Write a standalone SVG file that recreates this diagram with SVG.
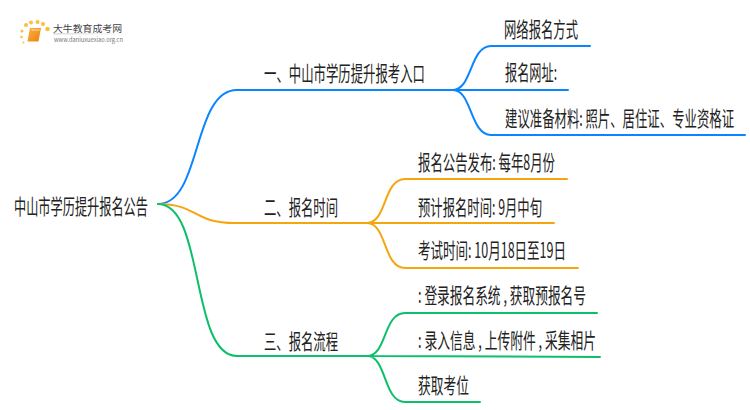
<svg xmlns="http://www.w3.org/2000/svg" width="750" height="410" viewBox="0 0 750 410">
<defs>
<style>
text{font-family:"Noto Sans CJK SC","Liberation Sans",sans-serif;font-size:21px;fill:#222}
.c{fill:none;stroke-width:2;stroke-linecap:round}
.b{stroke:#0a84ff}.o{stroke:#f5a60f}.g{stroke:#0dbf6a}
.d{fill:#fbbf3c}
</style>
<linearGradient id="bk" x1="0" y1="0" x2="1" y2="1"><stop offset="0" stop-color="#fbb33a"/><stop offset="1" stop-color="#ea7f12"/></linearGradient>
<linearGradient id="ln" x1="0" y1="0" x2="1" y2="0"><stop offset="0" stop-color="#bbb"/><stop offset="1" stop-color="#bbb" stop-opacity="0"/></linearGradient>
</defs>
<rect width="750" height="410" fill="#fff"/>
<g id="logo">
<circle class="d" cx="22" cy="31" r="1.500"/><circle class="d" cx="26" cy="25" r="2"/><circle class="d" cx="31" cy="22.500" r="2"/><circle class="d" cx="37.500" cy="22" r="2"/><circle class="d" cx="43" cy="24" r="2"/><circle class="d" cx="47.500" cy="29" r="2.300"/><circle class="d" cx="21.500" cy="37" r="1.200"/><circle class="d" cx="23.500" cy="42.500" r="1"/>
<path d="M30 28H41L38.500 41.500H27.500Z" fill="url(#bk)"/>
<path d="M31.500 30H39.500" stroke="#fde1a8" stroke-width="1"/>
<text x="53" y="31.500" textLength="69" lengthAdjust="spacingAndGlyphs" style="font-size:9.500px;fill:#444">大牛教育成考网</text>
<rect x="53" y="33.500" width="80" height="0.800" fill="url(#ln)"/>
<text x="54" y="41.500" textLength="69" lengthAdjust="spacingAndGlyphs" style="font-size:6px;fill:#777">www.daniuxuexiao.org.cn</text>
</g>
<g id="connectors">
<path class="c b" d="M158 204C202 204 192 90 237 90H453"/>
<path class="c b" d="M453 90C472 90 470 46 491 46H590M453 90H568M453 90C472 90 470 135 491 135H745"/>
<path class="c o" d="M158 204C198 204 192 223 235 223H367"/>
<path class="c o" d="M367 223C387 223 383 179 405 179H567M367 223H554M367 223C387 223 383 268 405 268H578"/>
<path class="c g" d="M158 204C205 204 190 356 237 356H367"/>
<path class="c g" d="M367 356C387 356 383 313 405 313H597M367 356L600 357M367 356C387 356 383 402 405 402H480"/>
</g>
<g id="root"><text transform="translate(14 214) scale(.6 1)" textLength="223.300" lengthAdjust="spacingAndGlyphs">中山市学历提升报名公告</text></g>
<g id="n1"><text transform="translate(264 81) scale(.6 1)" textLength="268.300" lengthAdjust="spacingAndGlyphs">一、中山市学历提升报考入口</text></g>
<g id="n2"><text transform="translate(264 215) scale(.6 1)" textLength="123.300" lengthAdjust="spacingAndGlyphs">二、报名时间</text></g>
<g id="n3"><text transform="translate(264 349) scale(.6 1)" textLength="123.300" lengthAdjust="spacingAndGlyphs">三、报名流程</text></g>
<g id="n1a"><text transform="translate(504 37) scale(.6 1)" textLength="123.300" lengthAdjust="spacingAndGlyphs">网络报名方式</text></g>
<g id="n1b"><text transform="translate(505 80) scale(.6 1)" textLength="86.700" lengthAdjust="spacingAndGlyphs">报名网址:</text></g>
<g id="n1c"><text transform="translate(505 126) scale(.6 1)" textLength="381.700" lengthAdjust="spacingAndGlyphs">建议准备材料: 照片、居住证、专业资格证</text></g>
<g id="n2a"><text transform="translate(418 170) scale(.6 1)" textLength="228.300" lengthAdjust="spacingAndGlyphs">报名公告发布: 每年8月份</text></g>
<g id="n2b"><text transform="translate(418 215) scale(.6 1)" textLength="206.700" lengthAdjust="spacingAndGlyphs">预计报名时间: 9月中旬</text></g>
<g id="n2c"><text transform="translate(418 258) scale(.6 1)" textLength="246.700" lengthAdjust="spacingAndGlyphs">考试时间: 10月18日至19日</text></g>
<g id="n3a"><text transform="translate(418 303) scale(.6 1)" textLength="280" lengthAdjust="spacingAndGlyphs">: 登录报名系统 , 获取预报名号</text></g>
<g id="n3b"><text transform="translate(418 348) scale(.6 1)" textLength="296.700" lengthAdjust="spacingAndGlyphs">: 录入信息 , 上传附件 , 采集相片</text></g>
<g id="n3c"><text transform="translate(418 393) scale(.6 1)" textLength="85" lengthAdjust="spacingAndGlyphs">获取考位</text></g>
</svg>
